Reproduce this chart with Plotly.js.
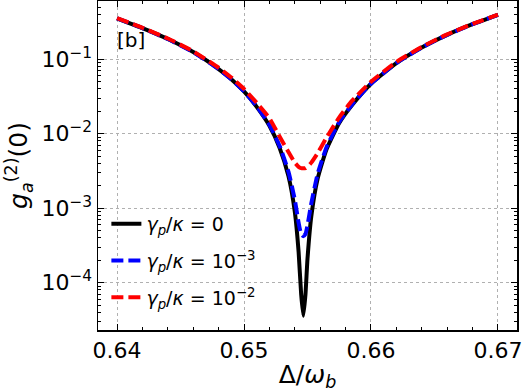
<!DOCTYPE html>
<html>
<head>
<meta charset="utf-8">
<script src="https://cdn.plot.ly/plotly-3.0.1.min.js"></script>
<style>
  html, body { margin: 0; padding: 0; background: #fff; }
  #plot { width: 524px; height: 392px; }
</style>
</head>
<body>
<div id="plot"></div>
<script>
// detuning samples, shared by the three curves
const detuning = [0.640, 0.642, 0.644, 0.646, 0.648, 0.649, 0.650, 0.651, 0.652, 0.6528,
  0.6535, 0.6540, 0.6543, 0.6545, 0.65467, 0.65484, 0.6550, 0.6553, 0.6558, 0.6565,
  0.6575, 0.6585, 0.660, 0.662, 0.664, 0.666, 0.668, 0.670];

// gamma_p / kappa = 0
const g2Zero = [0.355, 0.262, 0.187, 0.125, 0.074, 0.054, 0.037, 0.023, 0.0128, 0.0065,
  0.0027, 0.0009, 0.00026, 0.00007, 0.000036, 0.00007, 0.00021, 0.00078, 0.0025, 0.0062,
  0.014, 0.0242, 0.047, 0.089, 0.144, 0.213, 0.296, 0.395];

// gamma_p / kappa = 1e-3
const g2Small = [0.355, 0.262, 0.187, 0.125, 0.074, 0.054, 0.037, 0.0234, 0.0132, 0.0069,
  0.0031, 0.0013, 0.00064, 0.00045, 0.00042, 0.00045, 0.00059, 0.00116, 0.0029, 0.0066,
  0.0144, 0.0246, 0.047, 0.089, 0.144, 0.213, 0.296, 0.395];

// gamma_p / kappa = 1e-2
const g2Large = [0.357, 0.265, 0.19, 0.128, 0.077, 0.057, 0.040, 0.026, 0.0162, 0.0092,
  0.0057, 0.0041, 0.0036, 0.00345, 0.00344, 0.00345, 0.0036, 0.0041, 0.0055, 0.0089,
  0.0166, 0.0276, 0.050, 0.092, 0.147, 0.216, 0.299, 0.398];

const xTicks = [0.64, 0.65, 0.66, 0.67];
const xTickText = ['0.64', '0.65', '0.66', '0.67'];
const yTicks = [1e-4, 1e-3, 1e-2, 1e-1];
const yTickText = ['10<sup>\u22124</sup>', '10<sup>\u22123</sup>', '10<sup>\u22122</sup>', '10<sup>\u22121</sup>'];

const labels = [
  '<i>\u03b3<sub>p</sub></i>/<i>\u03ba</i> = 0',
  '<i>\u03b3<sub>p</sub></i>/<i>\u03ba</i> = 10<sup>\u22123</sup>',
  '<i>\u03b3<sub>p</sub></i>/<i>\u03ba</i> = 10<sup>\u22122</sup>'
];

const font = 'DejaVu Sans, sans-serif';

const traces = [
  { y: g2Zero, name: labels[0], legendgroup: 'a',
    line: { color: '#000000', width: 4, shape: 'spline', smoothing: 0.5 } },
  { y: g2Small, name: labels[1], legendgroup: 'b',
    line: { color: '#0000ff', width: 4, dash: '12px,5px', shape: 'spline', smoothing: 0.5 } },
  { y: g2Large, name: labels[2], legendgroup: 'c',
    line: { color: '#ff0000', width: 4, dash: '12px,5px', shape: 'spline', smoothing: 0.5 } }
].map(t => Object.assign({ type: 'scatter', mode: 'lines', x: detuning }, t));

const axisCommon = {
  showline: true,
  linecolor: '#000',
  linewidth: 1.5,
  mirror: 'allticks',
  ticks: 'inside',
  ticklen: 6,
  tickwidth: 1,
  tickcolor: '#000',
  showgrid: true,
  gridcolor: '#b0b0b0',
  griddash: 'dot',
  gridwidth: 1,
  zeroline: false,
  tickfont: { family: font, size: 22, color: '#000' }
};

const layout = {
  width: 524,
  height: 392,
  margin: { l: 98, r: 7, t: 1, b: 62 },
  paper_bgcolor: '#fff',
  plot_bgcolor: '#fff',
  font: { family: font, color: '#000' },
  showlegend: true,
  legend: {
    x: 0.02, y: 0.38, xanchor: 'left', yanchor: 'top',
    bgcolor: 'rgba(255,255,255,0)',
    font: { family: font, size: 19, color: '#000' },
    traceorder: 'grouped',
    tracegroupgap: 9
  },
  xaxis: Object.assign({}, axisCommon, {
    range: [0.6385, 0.6715],
    tickmode: 'array',
    tickvals: xTicks,
    ticktext: xTickText,
    minor: { ticks: 'inside', ticklen: 3, tickcolor: '#000', dtick: 0.002, showgrid: false },
    title: { text: '\u0394/<i>\u03c9<sub>b</sub></i>', font: { family: font, size: 25, color: '#000' }, standoff: 8 }
  }),
  yaxis: Object.assign({}, axisCommon, {
    type: 'log',
    range: [-4.635, -0.217],
    tickmode: 'array',
    tickvals: yTicks,
    ticktext: yTickText,
    minor: { ticks: 'inside', ticklen: 3, tickcolor: '#000', dtick: 'D1', showgrid: false },
    title: { text: '<i>g<sub>a</sub></i><sup>(2)</sup>(0)', font: { family: font, size: 25, color: '#000' }, standoff: 6 }
  }),
  annotations: [{
    text: '[b]', xref: 'paper', yref: 'paper', x: 0.04, y: 0.88,
    xanchor: 'left', yanchor: 'middle', showarrow: false,
    font: { family: font, size: 20, color: '#000' }
  }]
};

Plotly.newPlot('plot', traces, layout, { staticPlot: true, displayModeBar: false });
</script>
</body>
</html>
